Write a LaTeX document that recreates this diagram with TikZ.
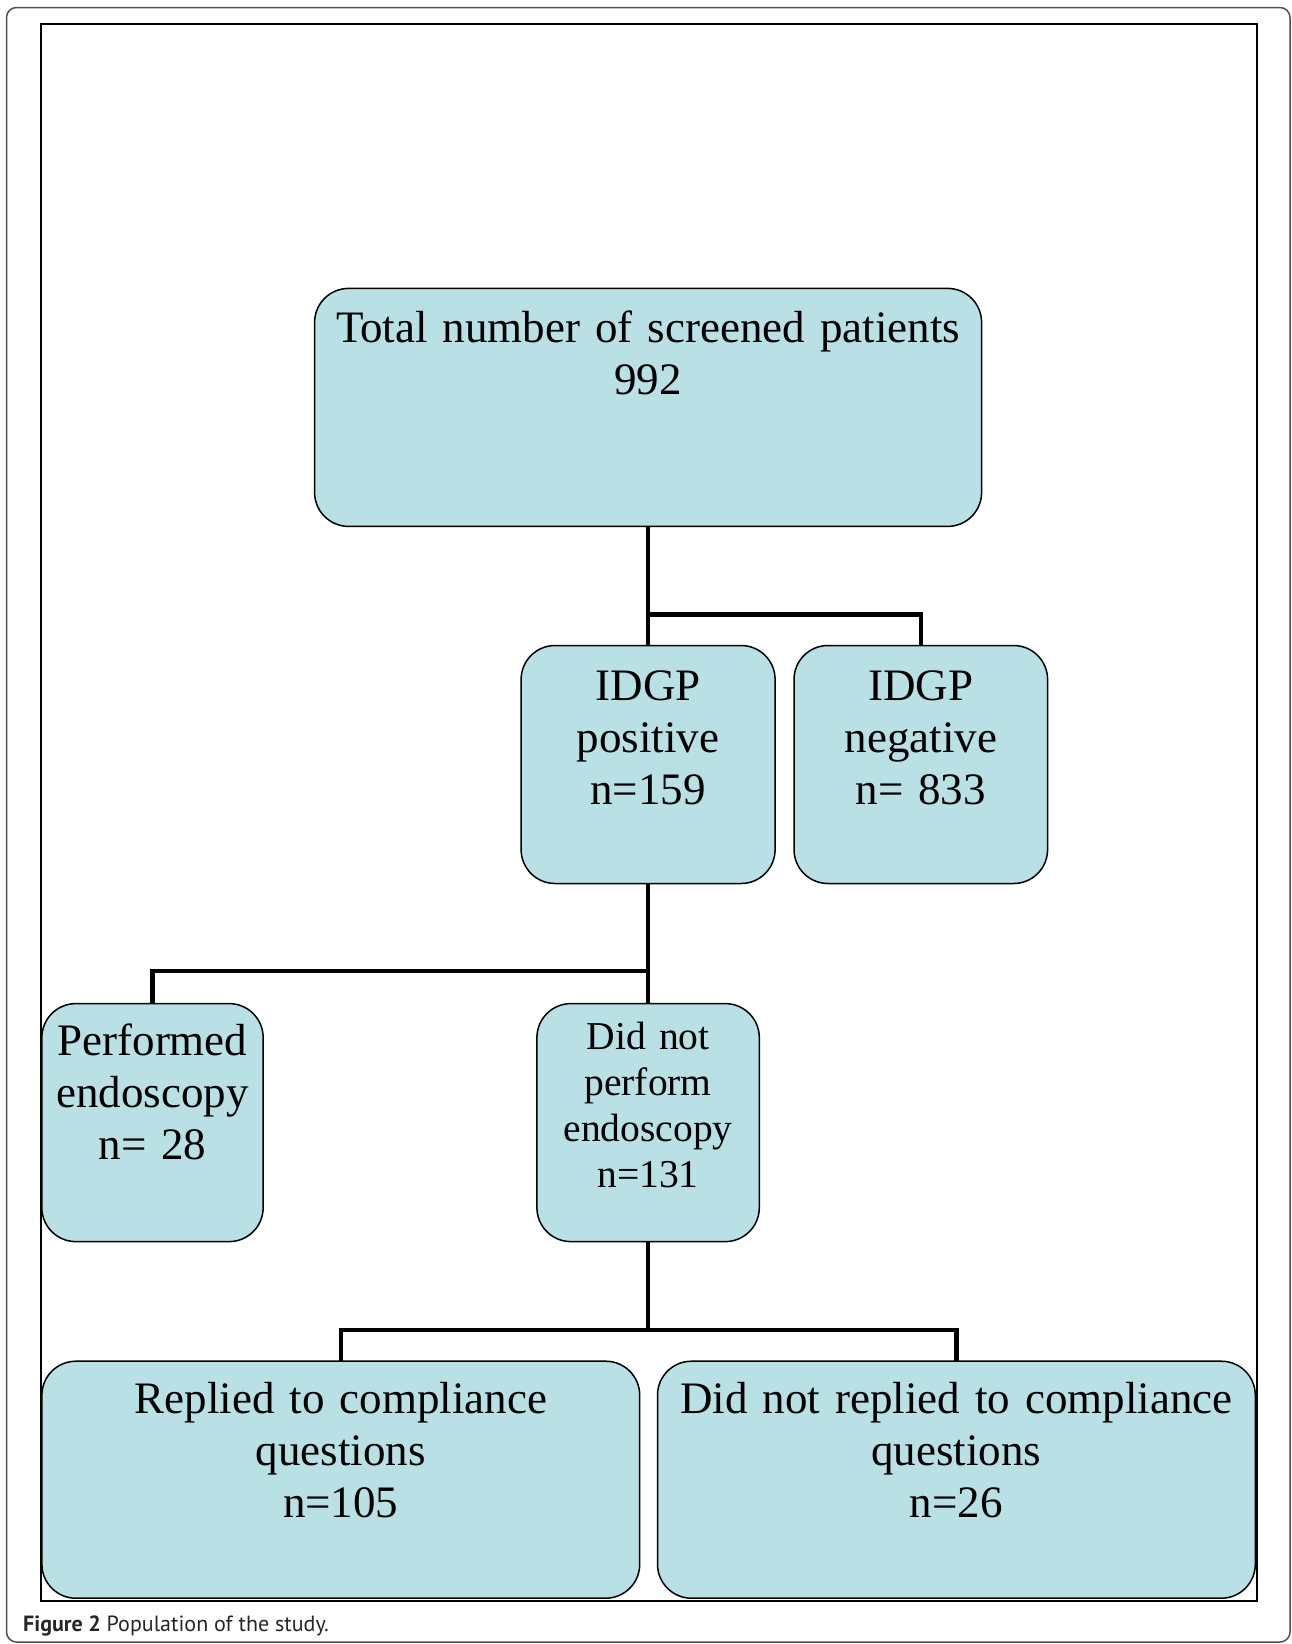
\documentclass[tikz,border=0pt]{standalone}
\usepackage{fontspec}
\setmainfont{Liberation Serif}
\newfontfamily\capfont{PT Sans}
\definecolor{boxfill}{RGB}{185,224,228}
\definecolor{framegray}{RGB}{80,80,80}
\tikzset{
  box/.style={draw=black, line width=1.5pt, fill=boxfill, rounded corners=34pt, inner sep=0pt, outer sep=0pt},
  conn/.style={draw=black, line width=4.5pt},
  bigtxt/.style={anchor=base, inner sep=0pt, align=center, font=\fontsize{45}{52}\selectfont},
  smalltxt/.style={anchor=base, inner sep=0pt, align=center, font=\fontsize{39.5}{46}\selectfont}
}
\begin{document}
\begin{tikzpicture}[x=1pt,y=-1pt]
\useasboundingbox (0,0) rectangle (1292,1644);
% frames
\draw[framegray, line width=1.5pt, rounded corners=10pt] (6.5,7.5) rectangle (1290,1642);
\draw[black, line width=2pt] (40.7,24) rectangle (1256.7,1601);
% junction coordinates
\coordinate (j1) at (648.1,614.3);
\coordinate (j2) at (648.1,971.1);
\coordinate (j3) at (648.1,1329.8);
% boxes
\node[box, minimum width=667pt, minimum height=238pt] (top) at (648.1,407.4) {};
\node[box, minimum width=254pt, minimum height=238pt] (pos) at (648.1,764.5) {};
\node[box, minimum width=253.6pt, minimum height=238pt] (neg) at (920.8,764.5) {};
\node[box, minimum width=221.3pt, minimum height=238pt] (perf) at (152.5,1122.6) {};
\node[box, minimum width=222.4pt, minimum height=238pt] (didnot) at (648.1,1122.6) {};
\node[box, minimum width=597.8pt, minimum height=237pt] (repl) at (340.8,1479.7) {};
\node[box, minimum width=597.8pt, minimum height=237pt] (drepl) at (956.4,1479.7) {};
% connectors
\draw[conn] (top.south) -- (pos.north);
\draw[conn] (j1) -| (neg.north);
\draw[conn] (pos.south) -- (didnot.north);
\draw[conn] (j2) -| (perf.north);
\draw[conn] (didnot.south) -- (j3);
\draw[conn] (repl.north) |- (j3) -| (drepl.north);
% texts
\node[bigtxt, text width=660pt] (t0) at (648.1,342.5) {Total number of screened patients\\992};
\node[bigtxt, text width=250pt] (t1) at (648.1,700) {IDGP\\positive\\n=159};
\node[bigtxt, text width=250pt] (t2) at (920.8,700) {IDGP\\negative\\n= 833};
\node[bigtxt, text width=218pt] (t3) at (152.5,1055) {Performed\\endoscopy\\n= 28};
\node[smalltxt, text width=218pt] (t4) at (648.1,1049.5) {Did not\\perform\\endoscopy\\n=131};
\node[bigtxt, text width=590pt] (t5) at (340.8,1413) {Replied to compliance\\questions\\n=105};
\node[bigtxt, text width=590pt] (t6) at (956.4,1413) {Did not replied to compliance\\questions\\n=26};
% caption
\node[anchor=base west, inner sep=0pt, font=\capfont\fontsize{22}{26}\selectfont, text=black!85] (cap) at (23,1631) {\textbf{Figure 2} Population of the study.};
\end{tikzpicture}
\end{document}
